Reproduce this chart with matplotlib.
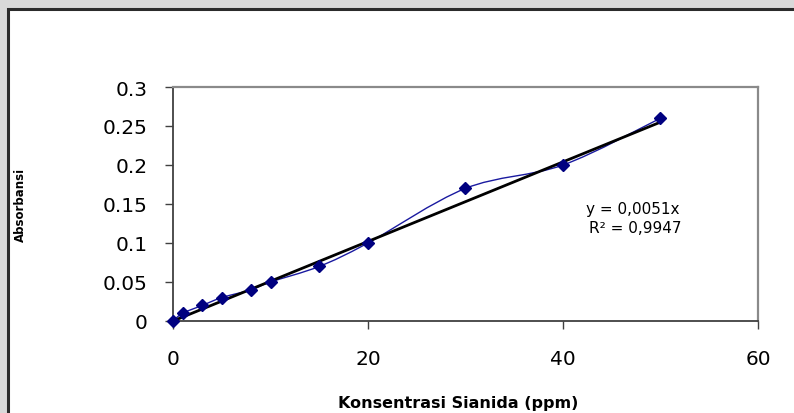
import numpy as np
import matplotlib
matplotlib.use("Agg")
import matplotlib.pyplot as plt
from matplotlib.path import Path
from matplotlib.patches import PathPatch, Rectangle

# Calibration data: cyanide concentration (ppm) vs absorbance
konsentrasi = [0, 1, 3, 5, 8, 10, 15, 20, 30, 40, 50]
absorbansi = [0.0, 0.01, 0.02, 0.03, 0.04, 0.05, 0.07, 0.10, 0.17, 0.20, 0.26]

# Linear trendline through origin
slope = 0.0051
r_squared = 0.9947

x_ticks = [0, 20, 40, 60]
y_ticks = [0, 0.05, 0.1, 0.15, 0.2, 0.25, 0.3]
y_tick_labels = ["0", "0.05", "0.1", "0.15", "0.2", "0.25", "0.3"]

W, H = 794, 414
fig = plt.figure(figsize=(W / 100, H / 100), dpi=100)
fig.patch.set_facecolor("#d9d9d9")

# White chart area with dark frame
fig.patches.append(Rectangle((7.5 / W, -0.1), 1.2, 1 - 9.5 / H + 0.1,
                             transform=fig.transFigure, facecolor="white",
                             edgecolor="#2b2b2b", linewidth=2.2, zorder=-5))

ax = fig.add_axes([173 / W, 1 - 322 / H, (758 - 173) / W, (322 - 88) / H])
ax.set_zorder(2)
ax.set_facecolor("white")
ax.set_xlim(0, 60)
ax.set_ylim(0, 0.3)

# Smoothed connecting line (Catmull-Rom style Bezier segments)
pts = np.column_stack([konsentrasi, absorbansi]).astype(float)
n = len(pts)
verts = [pts[0]]
codes = [Path.MOVETO]
for i in range(n - 1):
    p0 = pts[i - 1] if i > 0 else pts[i]
    p1 = pts[i]
    p2 = pts[i + 1]
    p3 = pts[i + 2] if i + 2 < n else pts[i + 1]
    c1 = p1 + (p2 - p0) / 6.0
    c2 = p2 - (p3 - p1) / 6.0
    verts += [c1, c2, p2]
    codes += [Path.CURVE4] * 3
ax.add_patch(PathPatch(Path(verts, codes), facecolor="none",
                       edgecolor="#1a1aa0", linewidth=1.0, zorder=2))

# Trendline
xt = np.array([0, max(konsentrasi)])
ax.plot(xt, slope * xt, color="black", linewidth=2.0, zorder=3)

# Data markers
ax.plot(konsentrasi, absorbansi, linestyle="none", marker="D", markersize=6,
        color="#000080", zorder=4, clip_on=False)

ax.text(47.2, 0.1436, "y = 0,0051x", ha="center", va="center",
        fontsize=11, family="DejaVu Sans")
ax.text(47.4, 0.1205, "R² = 0,9947", ha="center", va="center",
        fontsize=11, family="DejaVu Sans")

ax.set_xticks(x_ticks)
ax.set_xticklabels([str(t) for t in x_ticks])
ax.set_yticks(y_ticks)
ax.set_yticklabels(y_tick_labels)
ax.tick_params(axis="both", direction="out", length=6, width=1.0,
               color="#404040", labelsize=14.5, labelcolor="black")
ax.tick_params(axis="x", pad=14)
ax.tick_params(axis="y", pad=12)
for lbl in ax.get_xticklabels() + ax.get_yticklabels():
    lbl.set_family("DejaVu Sans")

for side in ("left", "bottom"):
    ax.spines[side].set_color("#404040")
    ax.spines[side].set_linewidth(1.3)
for side in ("top", "right"):
    ax.spines[side].set_color("#8a8a8a")
    ax.spines[side].set_linewidth(1.6)

fig.text(20 / W, 1 - 205 / H, "Absorbansi", rotation=90, ha="center",
         va="center", fontsize=8.5, fontweight="bold", family="DejaVu Sans")
fig.text(458 / W, 1 - 404 / H, "Konsentrasi Sianida (ppm)", ha="center",
         va="center", fontsize=11.5, fontweight="bold", family="DejaVu Sans")

fig.savefig("out.png", dpi=100, facecolor=fig.get_facecolor())
